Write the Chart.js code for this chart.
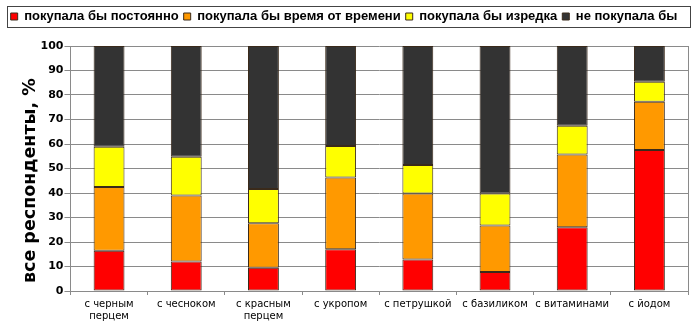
<!DOCTYPE html>
<html lang="ru">
<head>
<meta charset="utf-8">
<script src="https://cdn.jsdelivr.net/npm/chart.js@4/dist/chart.umd.min.js"></script>
<style>
  html, body { margin: 0; padding: 0; background: #fff; }
  #wrap { width: 700px; height: 335px; }
</style>
</head>
<body>
<div id="wrap"><canvas id="flavourChart"></canvas></div>
<script>
const categories = [
  ['с черным', 'перцем'], 'с чесноком', ['с красным', 'перцем'], 'с укропом',
  'с петрушкой', 'с базиликом', 'с витаминами', 'с йодом'
];
const alwaysBuy = [16.4, 12.0, 9.5, 17.0, 12.9, 7.8, 26.0, 57.6];
const sometimesBuy = [26.0, 27.0, 18.2, 29.3, 26.9, 18.9, 29.7, 19.6];
const rarelyBuy = [16.5, 15.8, 13.9, 12.9, 11.6, 13.1, 11.7, 8.2];
const neverBuy = [41.1, 45.2, 58.4, 40.8, 48.6, 60.2, 32.6, 14.6];
const yTicks = [0, 10, 20, 30, 40, 50, 60, 70, 80, 90, 100];

const gridGrey = '#8a8a8a';

// extra room under the legend, a frame round it and the plot's right edge
const frames = {
  id: 'frames',
  afterInit(chart) {
    const lg = chart.legend;
    const fit = lg.fit.bind(lg);
    lg.fit = function () {
      fit();
      this.height += 13;
    };
  },
  afterDraw(chart) {
    const ctx = chart.ctx;
    const area = chart.chartArea;
    ctx.save();
    ctx.strokeStyle = '#444';
    ctx.lineWidth = 1;
    ctx.strokeRect(7.5, 6.5, 683, 21);
    ctx.strokeStyle = gridGrey;
    ctx.beginPath();
    ctx.moveTo(Math.round(area.right) + 0.5, area.top);
    ctx.lineTo(Math.round(area.right) + 0.5, area.bottom);
    ctx.stroke();
    ctx.restore();
  }
};

function series(label, data, color) {
  return {
    label,
    data,
    backgroundColor: color,
    borderColor: '#3a2a1a',
    borderWidth: 1,
    borderSkipped: false,
    categoryPercentage: 1,
    barPercentage: 0.4
  };
}

new Chart(document.getElementById('flavourChart'), {
  type: 'bar',
  data: {
    labels: categories,
    datasets: [
      series('покупала бы постоянно', alwaysBuy, '#ff0000'),
      series('покупала бы время от времени', sometimesBuy, '#ff9900'),
      series('покупала бы изредка', rarelyBuy, '#ffff00'),
      series('не покупала бы', neverBuy, '#333333')
    ]
  },
  options: {
    responsive: true,
    maintainAspectRatio: false,
    animation: false,
    devicePixelRatio: 1,
    layout: { padding: { top: 5, right: 12, left: 0, bottom: 9 } },
    plugins: {
      tooltip: { enabled: false },
      legend: {
        position: 'top',
        labels: {
          color: '#000',
          font: { family: 'Liberation Sans', size: 13, weight: 'bold' },
          boxWidth: 7,
          boxHeight: 7,
          padding: 5
        }
      }
    },
    scales: {
      x: {
        stacked: true,
        grid: {
          offset: true,
          drawOnChartArea: false,
          drawTicks: true,
          tickLength: 4,
          color: gridGrey
        },
        border: { color: gridGrey },
        ticks: {
          color: '#000',
          font: { family: 'DejaVu Sans', size: 10, lineHeight: 1.15 },
          maxRotation: 0,
          autoSkip: false,
          padding: 4
        }
      },
      y: {
        stacked: true,
        min: 0,
        max: 100,
        afterBuildTicks(scale) {
          scale.ticks = yTicks.map(v => ({ value: v }));
        },
        grid: { color: gridGrey, tickLength: 6 },
        border: { color: gridGrey },
        ticks: {
          color: '#000',
          font: { family: 'DejaVu Sans', size: 11, weight: 'bold' },
          padding: 1
        },
        title: {
          display: true,
          // trailing spaces push the rotated title a little lower
          text: 'все респонденты, %    ',
          color: '#000',
          font: { family: 'DejaVu Sans', size: 17.5, weight: 'bold', lineHeight: 1 },
          padding: { top: 22, bottom: 0 }
        }
      }
    }
  },
  plugins: [frames]
});
</script>
</body>
</html>
